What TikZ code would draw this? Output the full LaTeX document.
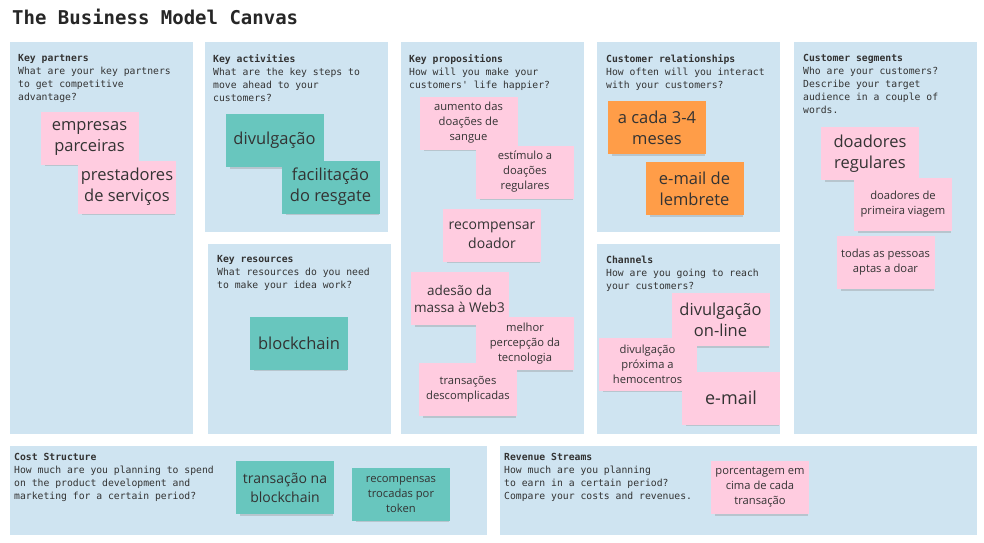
\documentclass[tikz,border=0pt]{standalone}
\usepackage{fontspec}
\setmainfont{Open Sans}
\newfontfamily\monofont{DejaVu Sans Mono}
\usepackage{tikz}
\usetikzlibrary{
  % soft shadow under the sticky notes
  shadows,%
  positioning
}
\definecolor{panelblue}{RGB}{207,228,241}
\definecolor{notepink}{RGB}{255,204,224}
\definecolor{noteteal}{RGB}{104,198,190}
\definecolor{noteorange}{RGB}{255,157,72}
\definecolor{notetext}{RGB}{51,51,51}
\tikzset{
  panel/.style={fill=panelblue, draw=white, line width=0.6pt, anchor=north west, inner sep=0pt},
  paneltext/.style={anchor=north west, inner sep=0pt, align=left, text=black!80,
    font=\monofont\fontsize{9.75}{13}\selectfont},
  note/.style={minimum width=98pt, minimum height=53pt, inner sep=2pt, align=center,
    text=notetext, drop shadow={shadow xshift=2pt, shadow yshift=-3pt,
      shadow scale=0.95, opacity=0.3}},
  pink/.style={note, fill=notepink},
  teal/.style={note, fill=noteteal},
  orange/.style={note, fill=noteorange},
  bigtext/.style={font=\fontsize{16.5}{21}\selectfont},
  midtext/.style={font=\fontsize{14}{19}\selectfont},
  smalltext/.style={font=\fontsize{11.2}{15}\selectfont}
}
\newcommand{\heading}[1]{\textbf{#1}}

\begin{document}
\begin{tikzpicture}[x=1pt, y=-1pt]
  \useasboundingbox[fill=white] (0,0) rectangle (984,542);
  \node[anchor=base west, inner sep=0pt, font=\monofont\bfseries\fontsize{19}{22}\selectfont,
    text=black!85] (title) at (12,24) {The Business Model Canvas};

  % panels
  \node[panel, minimum width=184pt, minimum height=393pt] (kp) at (9,41) {};
  \node[panel, minimum width=184pt, minimum height=191pt] (ka) at (204,41) {};
  \node[panel, minimum width=184pt, minimum height=191pt] (kr) at (207,243) {};
  \node[panel, minimum width=184pt, minimum height=393pt] (vp) at (400,41) {};
  \node[panel, minimum width=184pt, minimum height=191pt] (cr) at (596,41) {};
  \node[panel, minimum width=184pt, minimum height=191pt] (ch) at (596,243) {};
  \node[panel, minimum width=184pt, minimum height=393pt] (cs) at (793,41) {};
  \node[panel, minimum width=478pt, minimum height=90pt] (cost) at (9,445) {};
  \node[panel, minimum width=478pt, minimum height=90pt] (rev) at (499,445) {};

  % panel questions
  \node[paneltext] (kptext) at ([xshift=9pt, yshift=-13pt]kp.north west)
    {\heading{Key partners}\\What are your key partners\\to get competitive\\advantage?};
  \node[paneltext] (katext) at ([xshift=9pt, yshift=-13pt]ka.north west)
    {\heading{Key activities}\\What are the key steps to\\move ahead to your\\customers?};
  \node[paneltext] (krtext) at ([xshift=10pt, yshift=-12pt]kr.north west)
    {\heading{Key resources}\\What resources do you need\\to make your idea work?};
  \node[paneltext] (vptext) at ([xshift=9pt, yshift=-13pt]vp.north west)
    {\heading{Key propositions}\\How will you make your\\customers' life happier?};
  \node[paneltext] (crtext) at ([xshift=10pt, yshift=-13pt]cr.north west)
    {\heading{Customer relationships}\\How often will you interact\\with your customers?};
  \node[paneltext] (chtext) at ([xshift=10pt, yshift=-13pt]ch.north west)
    {\heading{Channels}\\How are you going to reach\\your customers?};
  \node[paneltext] (cstext) at ([xshift=10pt, yshift=-13pt]cs.north west)
    {\heading{Customer segments}\\Who are your customers?\\Describe your target\\audience in a couple of\\words.};
  \node[paneltext] (costtext) at ([xshift=5pt, yshift=-8pt]cost.north west)
    {\heading{Cost Structure}\\How much are you planning to spend\\on the product development and\\marketing for a certain period?};
  \node[paneltext] (revtext) at ([xshift=5pt, yshift=-8pt]rev.north west)
    {\heading{Revenue Streams}\\How much are you planning\\to earn in a certain period?\\Compare your costs and revenues.};

  % key partners
  \node[pink, bigtext] (empresas) at (89.5,138) {empresas\\parceiras};
  \node[pink, bigtext] (prestadores) at (127,187) {prestadores\\de serviços};

  % key activities
  \node[teal, bigtext] (divulgacao) at (274.5,140.5) {divulgação};
  \node[teal, bigtext] (facilitacao) at (330.5,187) {facilitação\\do resgate};

  % key resources
  \node[teal, bigtext] (blockchain) at (299,343) {blockchain};

  % key propositions
  \node[pink, smalltext] (aumento) at (468.5,123) {aumento das\\doações de\\sangue};
  \node[pink, smalltext] (estimulo) at (525,172) {estímulo a\\doações\\regulares};
  \node[pink, midtext] (recompensar) at (492,235) {recompensar\\doador};
  \node[pink, font=\fontsize{13.5}{17}\selectfont] (adesao) at (459.5,298.5) {adesão da\\massa à Web3};
  \node[pink, smalltext] (melhor) at (525,343.5) {melhor\\percepção da\\tecnologia};
  \node[pink, smalltext] (transacoes) at (468,389.5) {transações\\descomplicadas};

  % customer relationships
  \node[orange, bigtext] (acada) at (657,127.5) {a cada 3-4\\meses};
  \node[orange, bigtext] (lembrete) at (694.5,188.5) {e-mail de\\lembrete};

  % channels
  \node[pink, bigtext] (online) at (720.5,319.5) {divulgação\\on-line};
  \node[pink, smalltext] (proxima) at (647.5,364) {divulgação\\próxima a\\hemocentros};
  \node[pink, font=\fontsize{18}{22}\selectfont] (email) at (731,398) {e-mail};

  % customer segments
  \node[pink, bigtext] (regulares) at (870,153.5) {doadores\\regulares};
  \node[pink, smalltext] (primeira) at (903,204.5) {doadores de\\primeira viagem};
  \node[pink, smalltext] (todas) at (885.5,262.5) {todas as pessoas\\aptas a doar};

  % cost structure
  \node[teal, midtext] (transacao) at (285,487.5) {transação na\\blockchain};
  \node[teal, smalltext] (recompensas) at (401,494) {recompensas\\trocadas por\\token};

  % revenue streams
  \node[pink, smalltext] (porcentagem) at (760,487.5) {porcentagem em\\cima de cada\\transação};
\end{tikzpicture}
\end{document}
